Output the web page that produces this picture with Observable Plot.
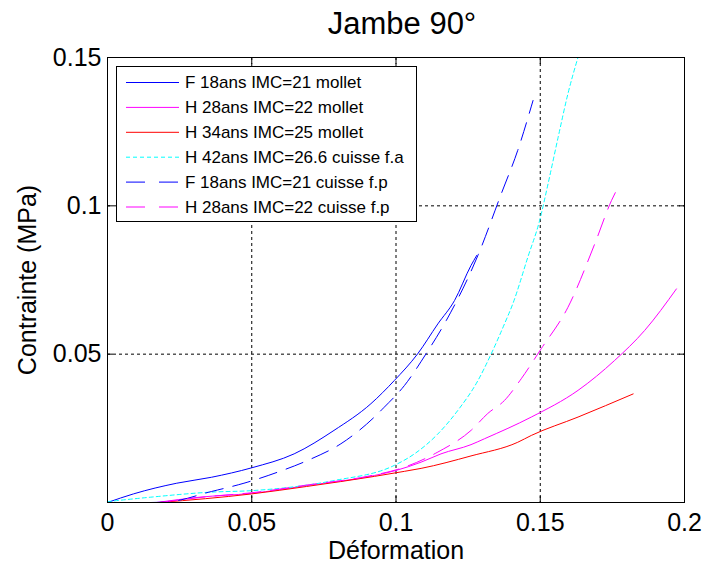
<!DOCTYPE html>
<html>
<head>
<meta charset="utf-8">
<script src="https://cdn.jsdelivr.net/npm/d3@7"></script>
<script src="https://cdn.jsdelivr.net/npm/@observablehq/plot@0.6"></script>
<style>
  html, body { margin: 0; padding: 0; background: #fff; }
  #chart { width: 705px; height: 565px; }
</style>
</head>
<body>
<div id="chart"></div>
<script>
// ---- Data ----
const title = "Jambe 90°";
const xLabel = "Déformation";
const yLabel = "Contrainte (MPa)";
const xTicks = [0, 0.05, 0.1, 0.15, 0.2];
const xTickLabels = ["0", "0.05", "0.1", "0.15", "0.2"];
const yTicks = [0.05, 0.1, 0.15];
const yTickLabels = ["0.05", "0.1", "0.15"];

const seriesNames = [
  "F 18ans IMC=21 mollet",
  "H 28ans IMC=22 mollet",
  "H 34ans IMC=25 mollet",
  "H 42ans IMC=26.6 cuisse f.a",
  "F 18ans IMC=21 cuisse f.p",
  "H 28ans IMC=22 cuisse f.p"
];
const seriesColors = ["#0000ff", "#ff00ff", "#ff0000", "#00ffff", "#0000ff", "#ff00ff"];
const seriesDash = ["none", "none", "none", "4,3", "18,10", "18,10"];

const f18MolletX = [0, 0.009, 0.024, 0.036, 0.05, 0.0647, 0.0785, 0.0913, 0.0994, 0.1075, 0.1145, 0.1203, 0.126, 0.128];
const f18MolletY = [0, 0.0029, 0.0065, 0.0085, 0.0117, 0.0164, 0.0243, 0.0333, 0.0411, 0.0501, 0.0602, 0.0681, 0.0799, 0.0833];

const h28MolletX = [0.017, 0.032, 0.05, 0.069, 0.0925, 0.1, 0.1087, 0.1156, 0.126, 0.1307, 0.1469, 0.1631, 0.1758, 0.1862, 0.1972];
const h28MolletY = [0, 0.0018, 0.0031, 0.0057, 0.0091, 0.0108, 0.0136, 0.0164, 0.0195, 0.0215, 0.0288, 0.0378, 0.0479, 0.058, 0.072];

const h34MolletX = [0.018, 0.05, 0.069, 0.0925, 0.1029, 0.1087, 0.126, 0.1422, 0.1469, 0.1631, 0.1822];
const h34MolletY = [0, 0.0029, 0.0054, 0.0088, 0.0105, 0.0115, 0.0157, 0.0203, 0.0226, 0.0288, 0.0366];

const h42CuisseFaX = [0, 0.015, 0.036, 0.05, 0.0785, 0.0994, 0.1064, 0.1145, 0.1214, 0.1284, 0.133, 0.1376, 0.1405, 0.1457, 0.1498, 0.1527, 0.1562, 0.1596, 0.1631];
const h42CuisseFaY = [0.0003, 0.0018, 0.0035, 0.004, 0.0074, 0.0125, 0.0164, 0.0231, 0.031, 0.0411, 0.0501, 0.0602, 0.067, 0.0827, 0.0951, 0.1074, 0.1231, 0.1378, 0.1501];

const f18CuisseFpX = [0.015, 0.021, 0.036, 0.0473, 0.0589, 0.0699, 0.0809, 0.0925, 0.0959, 0.1029, 0.1104, 0.1174, 0.1284, 0.1365, 0.1422, 0.1475];
const f18CuisseFpY = [0, 0.0002, 0.0037, 0.0065, 0.0102, 0.0144, 0.0198, 0.0288, 0.0321, 0.0394, 0.0501, 0.0613, 0.0833, 0.1041, 0.1187, 0.1355];

const h28CuisseFpX = [0.018, 0.035, 0.05, 0.07, 0.09, 0.1017, 0.1145, 0.126, 0.1318, 0.1376, 0.1434, 0.1503, 0.1596, 0.1689, 0.1747, 0.177];
const h28CuisseFpY = [0, 0.002, 0.0033, 0.006, 0.0088, 0.0115, 0.017, 0.0243, 0.03, 0.0344, 0.0417, 0.0518, 0.0658, 0.0872, 0.1018, 0.1063];

const seriesX = [f18MolletX, h28MolletX, h34MolletX, h42CuisseFaX, f18CuisseFpX, h28CuisseFpX];
const seriesY = [f18MolletY, h28MolletY, h34MolletY, h42CuisseFaY, f18CuisseFpY, h28CuisseFpY];

// ---- Build line marks ----
const lineMarks = seriesNames.map((name, s) => {
  const rows = seriesX[s].map((x, i) => ({x, y: seriesY[s][i], name}));
  return Plot.line(rows, {
    x: "x", y: "y",
    stroke: seriesColors[s],
    strokeWidth: 1,
    strokeDasharray: seriesDash[s] === "none" ? null : seriesDash[s],
    curve: "monotone-x",
    clip: true
  });
});

const plot = Plot.plot({
  width: 705,
  height: 565,
  marginTop: 57,
  marginBottom: 63,
  marginLeft: 107,
  marginRight: 21,
  style: {fontFamily: "'Liberation Sans', Arial, sans-serif", fontSize: "25px", background: "#fff", color: "#000", overflow: "visible"},
  x: {domain: [0, 0.2]},
  y: {domain: [0, 0.15]},
  marks: [
    Plot.gridX([0.05, 0.1, 0.15], {stroke: "#000", strokeOpacity: 1, strokeDasharray: "3,3"}),
    Plot.gridY([0.05, 0.1, 0.15], {stroke: "#000", strokeOpacity: 1, strokeDasharray: "3,3"}),
    ...lineMarks,
    Plot.frame({stroke: "#000", strokeWidth: 1}),
    Plot.axisX({ticks: xTicks, tickFormat: (d, i) => xTickLabels[i], tickSize: -6, tickPadding: 17, label: null, fontSize: 25}),
    Plot.axisX({anchor: "top", ticks: xTicks, tickFormat: () => "", tickSize: -6, label: null}),
    Plot.axisY({ticks: yTicks, tickFormat: (d, i) => yTickLabels[i], tickSize: -6, tickPadding: 12, label: null, fontSize: 25}),
    Plot.axisY({anchor: "right", ticks: yTicks, tickFormat: () => "", tickSize: -6, label: null}),
    Plot.text([title], {text: d => d, frameAnchor: "top", lineAnchor: "middle", textAnchor: "middle", dy: -33, dx: 6, fontSize: 31}),
    Plot.text([yLabel], {text: d => d, frameAnchor: "left", lineAnchor: "middle", textAnchor: "middle", rotate: -90, dx: -80, fontSize: 25}),
    Plot.text([xLabel], {text: d => d, frameAnchor: "bottom", lineAnchor: "middle", textAnchor: "middle", dy: 48, fontSize: 25})
  ]
});

// ---- Legend box inside the plot ----
const svg = d3.select(plot);
const lg = svg.append("g").attr("class", "legend").attr("text-anchor", "start");
const lx = 116.5, ly = 66.5, lw = 300, lh = 155, rowH = 24.9, row0 = 82.5;
lg.append("rect").attr("x", lx).attr("y", ly).attr("width", lw).attr("height", lh)
  .attr("fill", "#fff").attr("stroke", "#000").attr("stroke-width", 1);
seriesNames.forEach((name, i) => {
  const yy = row0 + i * rowH;
  lg.append("line").attr("x1", 126).attr("x2", 179).attr("y1", yy).attr("y2", yy)
    .attr("stroke", seriesColors[i]).attr("stroke-width", 1)
    .attr("stroke-dasharray", seriesDash[i] === "none" ? null : (seriesDash[i] === "18,10" ? "19,14" : seriesDash[i]));
  lg.append("text").attr("x", 185).attr("y", yy).attr("dy", "0.35em")
    .attr("text-anchor", "start")
    .attr("font-size", 17).attr("fill", "#000").text(name);
});

document.getElementById("chart").appendChild(plot);
</script>
</body>
</html>
